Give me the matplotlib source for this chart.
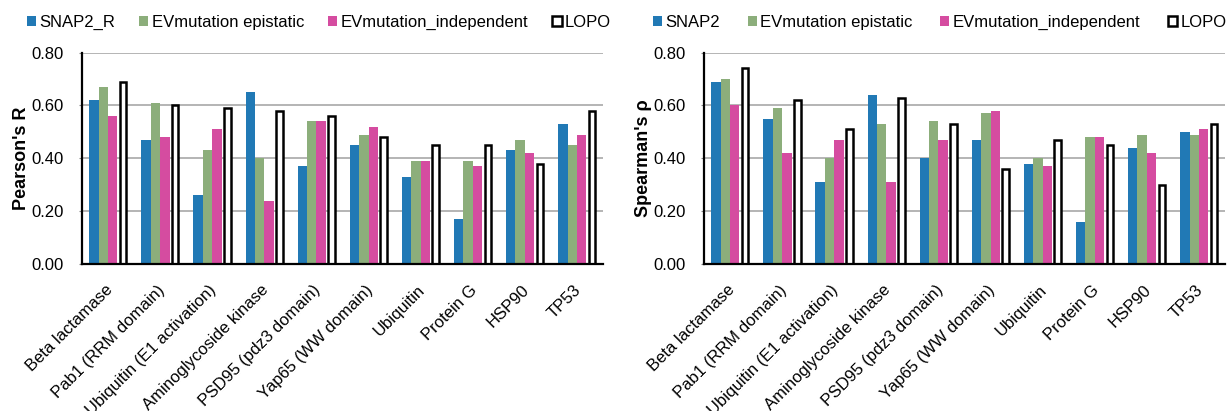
import matplotlib
matplotlib.use('Agg')
import matplotlib.pyplot as plt
import matplotlib.transforms as mtransforms
import numpy as np
from matplotlib.patches import Patch

plt.rcParams['font.family'] = ['Liberation Sans', 'DejaVu Sans']

proteins = ['Beta lactamase', 'Pab1 (RRM domain)', 'Ubiquitin (E1 activation)',
            'Aminoglycoside kinase', 'PSD95 (pdz3 domain)', 'Yap65 (WW domain)',
            'Ubiquitin', 'Protein G', 'HSP90', 'TP53']

# Pearson's R (left panel)
snap2_r = [0.62, 0.47, 0.26, 0.65, 0.37, 0.45, 0.33, 0.17, 0.43, 0.53]
ev_epi_r = [0.67, 0.61, 0.43, 0.40, 0.54, 0.49, 0.39, 0.39, 0.47, 0.45]
ev_ind_r = [0.56, 0.48, 0.51, 0.24, 0.54, 0.52, 0.39, 0.37, 0.42, 0.49]
lopo_r = [0.69, 0.60, 0.59, 0.58, 0.56, 0.48, 0.45, 0.45, 0.38, 0.58]

# Spearman's rho (right panel)
snap2_s = [0.69, 0.55, 0.31, 0.64, 0.40, 0.47, 0.38, 0.16, 0.44, 0.50]
ev_epi_s = [0.70, 0.59, 0.40, 0.53, 0.54, 0.57, 0.40, 0.48, 0.49, 0.49]
ev_ind_s = [0.60, 0.42, 0.47, 0.31, 0.47, 0.58, 0.37, 0.48, 0.42, 0.51]
lopo_s = [0.74, 0.62, 0.51, 0.63, 0.53, 0.36, 0.47, 0.45, 0.30, 0.53]

yticks = [0.0, 0.2, 0.4, 0.6, 0.8]

blue = '#2179b5'
green = '#8cae7b'
pink = '#d54ca0'


def draw_panel(ax, snap, epi, ind, lopo, ylabel, snap_name, legend_x, colspace):
    x = np.arange(len(proteins))
    ax.bar(x - 0.27, snap, width=0.18, color=blue, zorder=3)
    ax.bar(x - 0.09, epi, width=0.18, color=green, zorder=3)
    ax.bar(x + 0.09, ind, width=0.18, color=pink, zorder=3)
    ax.bar(x + 0.29, lopo, width=0.125, color='white', edgecolor='black',
           linewidth=1.8, zorder=3)

    ax.set_xlim(-0.5, len(proteins) - 0.5)
    ax.set_ylim(0, 0.8)
    ax.set_yticks(yticks)
    ax.set_yticklabels(['%.2f' % v for v in yticks])
    ax.yaxis.grid(True, color='#a8a8a8', linewidth=1.2, zorder=0)
    ax.set_axisbelow(True)

    for s in ['top', 'right']:
        ax.spines[s].set_visible(False)
    for s in ['left', 'bottom']:
        ax.spines[s].set_linewidth(1.6)
        ax.spines[s].set_color('black')
        ax.spines[s].set_zorder(4)

    ax.tick_params(axis='y', length=2, color='#888888', labelsize=12, pad=11)
    ax.set_xticks(x)
    ax.set_xticklabels(proteins, rotation=45, ha='right', va='center',
                       rotation_mode='anchor', fontsize=12)
    ax.tick_params(axis='x', length=0, pad=17)
    shift = mtransforms.ScaledTranslation(2 / 100, 0, ax.figure.dpi_scale_trans)
    for lab in ax.get_xticklabels():
        lab.set_transform(lab.get_transform() + shift)

    ax.set_ylabel(ylabel, fontsize=13, fontweight='bold')
    ax.yaxis.set_label_coords(-0.10, 0.5)

    handles = [Patch(facecolor=blue, edgecolor='none', label=snap_name),
               Patch(facecolor=green, edgecolor='none', label='EVmutation epistatic'),
               Patch(facecolor=pink, edgecolor='none', label='EVmutation_independent'),
               Patch(facecolor='white', edgecolor='black', linewidth=1.8, label='LOPO')]
    ax.figure.legend(handles=handles, loc='center', bbox_to_anchor=(legend_x, 0.945),
                     ncol=4, frameon=False, fontsize=12, handlelength=0.55,
                     handleheight=0.55, handletextpad=0.2, columnspacing=colspace,
                     borderpad=0)


fig = plt.figure(figsize=(12.31, 4.11), dpi=100)
ax1 = fig.add_axes([0.0666, 0.3577, 0.4232, 0.5143])
ax2 = fig.add_axes([0.5719, 0.3577, 0.4232, 0.5143])

draw_panel(ax1, snap2_r, ev_epi_r, ev_ind_r, lopo_r, "Pearson's R", 'SNAP2_R', 0.259, 1.45)
draw_panel(ax2, snap2_s, ev_epi_s, ev_ind_s, lopo_s, "Spearman's ρ", 'SNAP2', 0.7635, 1.66)

fig.savefig('out.png', dpi=100)
